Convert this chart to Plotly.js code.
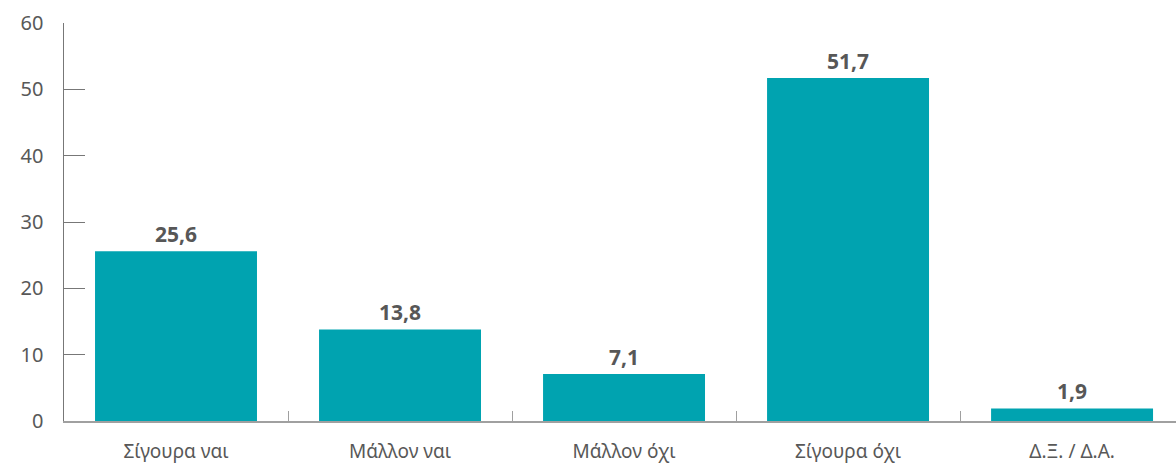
<!DOCTYPE html>
<html><head><meta charset="utf-8">
<script src="https://cdn.plot.ly/plotly-3.0.1.min.js"></script>
<style>html,body{margin:0;padding:0;background:#fff}#chart{width:1176px;height:463px}</style>
</head><body><div id="chart"></div>
<script>
var categories = ["Σίγουρα ναι", "Μάλλον ναι", "Μάλλον όχι", "Σίγουρα όχι", "Δ.Ξ. / Δ.Α."];
var values = [25.6, 13.8, 7.1, 51.7, 1.9];
var yTicks = [0, 10, 20, 30, 40, 50, 60];

var trace = {
  type: "bar",
  x: categories,
  y: values,
  width: 0.723,
  marker: {color: "#00a3b0"},
  texttemplate: "%{y:.1f}",
  textposition: "outside",
  cliponaxis: false,
  textfont: {family: "Noto Sans, sans-serif", size: 21, color: "#575757", weight: "bold"},
  hoverinfo: "none"
};

var layout = {
  width: 1176, height: 463,
  margin: {l: 64, r: 0, t: 23, b: 42},
  separators: ",.",
  showlegend: false,
  plot_bgcolor: "#fff", paper_bgcolor: "#fff",
  xaxis: {
    type: "category",
    range: [-0.5, 4.464],
    showline: true, linecolor: "#a0a0a0", linewidth: 1.5,
    ticks: "inside", tickson: "boundaries", ticklen: 10, tickcolor: "#a0a0a0", tickwidth: 1,
    showgrid: false, zeroline: false,
    tickfont: {family: "Noto Sans, sans-serif", size: 19, color: "#585858"},
    ticklabelstandoff: 13,
    automargin: false
  },
  yaxis: {
    range: [0, 60],
    tickvals: yTicks,
    ticktext: yTicks.map(String),
    showline: true, linecolor: "#777777", linewidth: 1.5,
    ticks: "inside", ticklen: 21, tickcolor: "#777777", tickwidth: 1,
    showgrid: false, zeroline: false,
    tickfont: {family: "Noto Sans, sans-serif", size: 20, color: "#585858"},
    ticklabelstandoff: 15,
    automargin: false
  }
};

Plotly.newPlot("chart", [trace], layout, {displayModeBar: false, staticPlot: true});
</script></body></html>
